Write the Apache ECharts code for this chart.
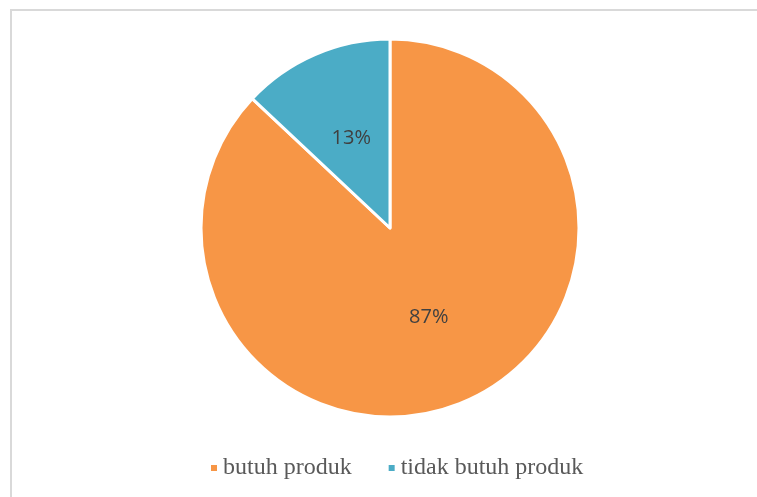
<!DOCTYPE html>
<html><head><meta charset="utf-8">
<script src="https://cdn.jsdelivr.net/npm/echarts@6/dist/echarts.min.js"></script>
<style>html,body{margin:0;padding:0;background:#fff}#c{width:757px;height:497px}</style>
</head><body><div id="c"></div>
<script>
var categories = ['butuh produk', 'tidak butuh produk'];
var values = [87, 13];
var colors = ['#F79646', '#4BACC6'];

var chart = echarts.init(document.getElementById('c'));
chart.setOption({
  animation: false,
  graphic: [{
    type: 'rect', shape: {x: 11, y: 10, width: 760, height: 500},
    style: {fill: 'none', stroke: '#d9d9d9', lineWidth: 2}, silent: true
  }],
  legend: {
    data: categories, top: 451, left: 204,
    itemWidth: 8, itemHeight: 8, itemGap: 35, icon: 'rect',
    textStyle: {fontFamily: 'Liberation Serif', fontSize: 24, color: '#595959'}
  },
  series: [{
    type: 'pie', center: [390, 228], radius: [0, 189], startAngle: 90, clockwise: true,
    label: {position: 'inside', formatter: function(p){return p.value + '%';},
      fontFamily: 'Open Sans', fontSize: 20, color: '#404040'},
    labelLine: {show: false},
    itemStyle: {borderColor: '#fff', borderWidth: 3},
    emphasis: {disabled: true},
    data: categories.map(function(c, i){ return {name: c, value: values[i], itemStyle: {color: colors[i]}}; })
  }]
});
</script></body></html>
